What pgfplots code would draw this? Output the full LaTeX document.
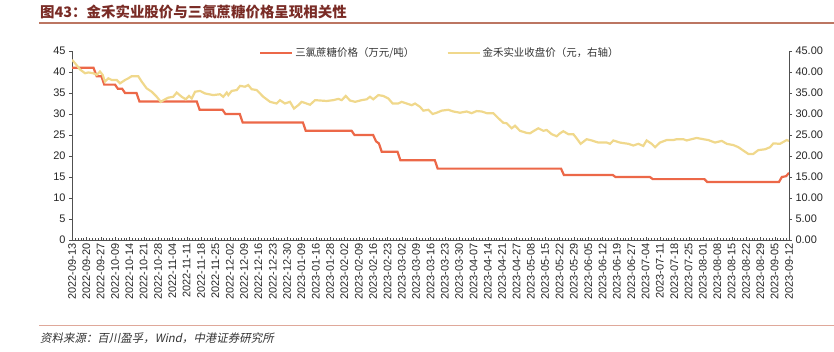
\documentclass[border=0pt]{standalone}
\usepackage{fontspec}
\setmainfont{Liberation Sans}
\newfontfamily\cjk{Noto Sans CJK SC}
\newfontfamily\cjksl{Noto Sans CJK SC}[FakeSlant=0.2]
\usepackage{pgfplots}
\pgfplotsset{compat=1.18}
\definecolor{sugar}{RGB}{236,104,72}
\definecolor{stock}{RGB}{240,216,140}
\definecolor{titlec}{RGB}{122,44,38}
\definecolor{topline}{RGB}{188,118,98}
\definecolor{botline}{RGB}{223,168,154}
\definecolor{axisc}{RGB}{80,80,80}
\begin{document}
\begin{tikzpicture}
\useasboundingbox (0,0) rectangle (834bp,-352bp);
\node[anchor=west,inner sep=0pt,text=titlec,font=\cjk\bfseries\fontsize{14.5}{16}\selectfont] at (40bp,-12bp) {图43：金禾实业股价与三氯蔗糖价格呈现相关性};
\draw[topline,line width=1.2bp] (39bp,-23bp) -- (834bp,-23bp);
\draw[botline,line width=1.5bp] (39bp,-325.5bp) -- (834bp,-325.5bp);
\node[anchor=west,inner sep=0pt,text=black!80,font=\cjksl\fontsize{11.5}{13}\selectfont] at (40bp,-338bp) {资料来源：百川盈孚，Wind，中港证券研究所};
\pgfplotsset{
  common/.style={
    width=717bp, height=189bp, scale only axis,
    at={(72bp,-240bp)}, anchor=south west,
    xmin=0, xmax=50, ymin=0, ymax=45,
    ytick={0,5,...,45},
    axis line style={axisc,-},
    major tick length=3bp, minor tick length=2.5bp,
    tick style={axisc},
    tick label style={font=\fontsize{11}{12}\selectfont, text=black!85},
    /pgf/number format/assume math mode=true,
  }
}
\begin{axis}[common,
  axis x line*=bottom, axis y line*=left,
  xtick={0,...,50},
  minor x tick num=4,
  xtick align=inside, ytick align=outside,
  xticklabels={2022-09-13,2022-09-20,2022-09-27,2022-10-09,2022-10-14,2022-10-21,2022-10-28,2022-11-04,2022-11-11,2022-11-18,2022-11-25,2022-12-02,2022-12-09,2022-12-16,2022-12-23,2022-12-30,2023-01-09,2023-01-16,2023-01-28,2023-02-02,2023-02-09,2023-02-16,2023-02-23,2023-03-02,2023-03-09,2023-03-16,2023-03-23,2023-03-30,2023-04-07,2023-04-14,2023-04-21,2023-04-27,2023-05-08,2023-05-15,2023-05-22,2023-05-29,2023-06-05,2023-06-12,2023-06-19,2023-06-27,2023-07-04,2023-07-11,2023-07-18,2023-07-25,2023-08-01,2023-08-08,2023-08-15,2023-08-22,2023-08-29,2023-09-05,2023-09-12},
  x tick label style={rotate=90, anchor=east},
  legend columns=2,
  legend style={draw=none, fill=none, at={(0.513,0.989)}, anchor=center,
    font=\cjk\fontsize{10.5}{12}\selectfont, text=black!80,
    /tikz/every even column/.append style={column sep=30bp}},
  legend image code/.code={\draw[#1] (0bp,0bp) -- (32bp,0bp);},
]
\addplot[sugar, line width=2.2bp] coordinates {
(0,41) (1.5,41) (1.72,39) (2.05,39) (2.25,37) (3.0,37) (3.2,36) (3.5,36) (3.7,35) (4.5,35) (4.7,33) (8.7,33) (8.9,31) (10.5,31) (10.7,30) (11.7,30) (11.9,28) (16.1,28) (16.3,26) (19.5,26) (19.7,25) (21.0,25) (21.2,23.5) (21.4,23) (21.6,21) (22.7,21) (22.9,19) (25.3,19) (25.5,17) (34.1,17) (34.3,15.5) (37.7,15.5) (37.9,15) (40.3,15) (40.5,14.5) (44.1,14.5) (44.3,13.8) (49.3,13.8) (49.5,15) (49.8,15.2) (50,16)
};
\addlegendentry{三氯蔗糖价格（万元/吨）}
\addlegendimage{stock, line width=2.2bp}
\addlegendentry{金禾实业收盘价（元，右轴）}
\end{axis}
\begin{axis}[common,
  axis x line=none, axis y line*=right,
  ytick align=outside,
  yticklabel style={/pgf/number format/.cd, fixed, fixed zerofill, precision=2},
]
\addplot[stock, line width=2.2bp] coordinates {
(0,42.9) (0.21,42.1) (0.56,40.6) (0.91,39.7) (1.14,39.9) (1.49,39.7) (1.72,39.3) (1.95,40.1) (2.14,39.3) (2.30,37.7) (2.53,38.5) (2.77,38.1) (3.12,38.1) (3.35,37.3) (3.70,38.1) (3.93,38.5) (4.16,39.0) (4.62,39.0) (4.86,37.7) (5.21,36.1) (5.56,35.3) (5.91,34.1) (6.19,32.9) (6.49,33.5) (6.72,33.9) (7.06,34.1) (7.30,35.1) (7.65,34.1) (7.93,33.5) (8.16,34.3) (8.35,33.7) (8.58,35.3) (8.93,35.5) (9.27,34.9) (9.85,34.5) (10.32,34.7) (10.55,34.1) (10.79,35.1) (10.90,34.5) (11.14,35.5) (11.49,35.7) (11.72,36.7) (12.06,36.5) (12.29,36.9) (12.53,35.9) (12.88,35.7) (13.34,34.1) (13.81,32.9) (14.27,32.5) (14.50,33.3) (14.85,32.5) (15.20,32.9) (15.48,31.3) (15.78,32.1) (16.02,32.9) (16.60,32.2) (16.95,33.3) (17.76,33.1) (18.22,33.3) (18.57,33.6) (18.81,33.3) (19.09,34.3) (19.39,33.2) (19.74,32.9) (20.20,33.3) (20.55,33.5) (20.78,34.1) (21.01,33.5) (21.36,34.5) (21.71,34.3) (22.06,33.7) (22.36,32.5) (22.75,32.5) (22.99,32.9) (23.34,32.5) (23.69,32.1) (23.92,32.5) (24.27,31.7) (24.50,30.8) (24.85,31.0) (25.15,30.0) (25.43,30.3) (25.78,30.8) (26.24,31.0) (26.59,30.6) (27.06,30.3) (27.52,30.6) (27.87,30.2) (28.22,30.7) (28.57,30.6) (28.92,30.2) (29.38,30.2) (29.73,29.0) (30.08,27.9) (30.31,27.8) (30.66,26.6) (30.89,27.2) (31.24,26.0) (31.71,25.5) (31.94,25.4) (32.17,25.9) (32.52,26.6) (32.87,26.0) (33.10,26.2) (33.45,25.2) (33.80,24.7) (34.03,25.4) (34.26,25.9) (34.61,25.2) (34.96,25.2) (35.19,24.2) (35.47,22.9) (35.89,24.0) (36.24,23.7) (36.70,23.2) (37.29,23.2) (37.52,22.9) (37.75,23.7) (38.21,23.2) (38.79,22.9) (39.14,22.5) (39.49,22.9) (39.84,22.4) (40.07,23.7) (40.42,22.9) (40.66,22.1) (41.00,23.2) (41.47,23.8) (41.93,23.8) (42.17,24.0) (42.63,24.0) (42.86,23.7) (43.32,24.1) (43.56,24.3) (44.02,24.0) (44.37,23.8) (44.84,23.2) (45.31,23.6) (45.66,22.9) (46.12,22.6) (46.47,22.1) (46.81,21.3) (47.16,20.5) (47.51,20.5) (47.86,21.4) (48.33,21.6) (48.68,22.1) (48.91,23.0) (49.37,22.9) (49.84,23.8) (50,23.6)
};
\end{axis}
\end{tikzpicture}
\end{document}
